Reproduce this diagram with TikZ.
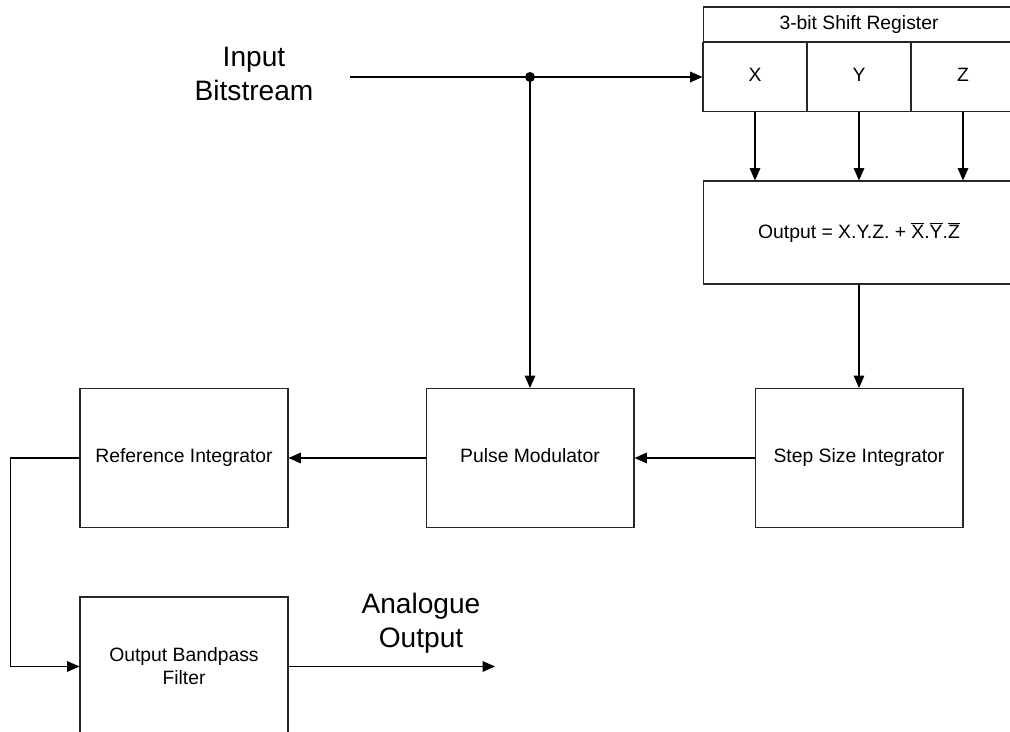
\documentclass[tikz,border=0pt]{standalone}
\usepackage{fontspec}
\setmainfont{Liberation Sans}
\usetikzlibrary{arrows.meta}
\colorlet{myline}{black!85}

\begin{document}
\begin{tikzpicture}[x=0.02cm,y=-0.02cm,font=\fontsize{11}{13}\selectfont]
\tikzset{blk/.style ={draw=myline, line width=0.6pt, minimum width=4.16cm, minimum height=2.78cm, align=center}}
\tikzset{one/.style ={text height=8pt, text depth=2.4pt}}
\tikzset{cell/.style ={draw=myline, line width=0.6pt, minimum width=2.08cm, minimum height=1.38cm, one}}
\tikzset{arr/.style ={line width=0.6pt, -{Triangle[length=7pt,width=6pt]}}}
\tikzset{big/.style ={align=center, font=\fontsize{16}{19.5}\selectfont}}
\useasboundingbox (0,0) rectangle (1010,732);
% shift register
\node[draw=myline, line width=0.6pt, minimum width=6.24cm, minimum height=0.7cm, one] (sreg) at (859,24.5) {3-bit Shift Register};
\node[cell] (x) at (755,77) {X};
\node[cell] (y) at (859,77) {Y};
\node[cell] (z) at (963,77) {Z};
\node[draw=myline, line width=0.6pt, minimum width=6.24cm, minimum height=2.06cm] (logic) at (859,232.5)
  {Output = X.Y.Z. + $\overline{\mbox{X}}$.$\overline{\mbox{Y}}$.$\overline{\mbox{Z}}$};
% main chain
\node[blk, one] (ssi) at (859,458) {Step Size Integrator};
\node[blk, one] (pm) at (530,458) {Pulse Modulator};
\node[blk, one] (ref) at (184,458) {Reference Integrator};
\node[blk] (obf) at (184,666.5) {Output Bandpass\\Filter};
% labels
\node[big] (inlbl) at (254,74) {Input\\Bitstream};
\node[big] (outlbl) at (421,623) {Analogue\\Output};
\coordinate (in) at (350,77);
\coordinate (tap) at (530,77);
\coordinate (aout) at (495,666.5);
\draw[line width=0.8pt] (in) -- (tap);
\draw[arr, line width=0.8pt] (tap) -- (x.west);
\fill (tap) circle (0.1cm);
\draw[arr, line width=0.8pt] (tap) -- (pm.north);
\foreach \c in {x,y,z}
  \draw[arr] (\c.south) -- (\c.south |- logic.north);
\draw[arr] (logic.south) -- (ssi.north);
\draw[arr] (ssi.west) -- (pm.east);
\draw[arr] (pm.west) -- (ref.east);
\draw[arr] (ref.west) -- ++(-69,0) |- (obf.west);
\draw[arr] (obf.east) -- (aout);
\end{tikzpicture}
\end{document}
